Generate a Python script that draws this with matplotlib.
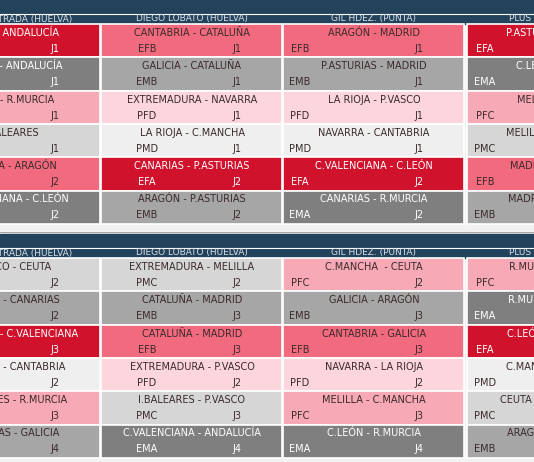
import matplotlib
matplotlib.use("Agg")
import matplotlib.pyplot as plt
from matplotlib.patches import Rectangle

headers = ["ANDRÉS ESTRADA (HUELVA)", "DIEGO LOBATO (HUELVA)", "GIL HDEZ. (PUNTA)", "PLUS ULTRA (HUELVA)"]

block1_matches = [
    ["CEUTA - ANDALUCÍA", "MURCIA - ANDALUCÍA", "CEUTA - R.MURCIA", "I.BALEARES", "MELILLA - ARAGÓN", "C.VALENCIANA - C.LEÓN"],
    ["CANTABRIA - CATALUÑA", "GALICIA - CATALUÑA", "EXTREMADURA - NAVARRA", "LA RIOJA - C.MANCHA", "CANARIAS - P.ASTURIAS", "ARAGÓN - P.ASTURIAS"],
    ["ARAGÓN - MADRID", "P.ASTURIAS - MADRID", "LA RIOJA - P.VASCO", "NAVARRA - CANTABRIA", "C.VALENCIANA - C.LEÓN", "CANARIAS - R.MURCIA"],
    ["P.ASTURIAS - GALICIA", "C.LEÓN - GALICIA", "MELILLA - CEUTA", "MELILLA - C.MANCHA", "MADRID - NAVARRA", "MADRID - CANARIAS"],
]
block1_codes = [
    ["EFA", "EMA", "PFC", "PMC", "EFB", "EMA"],
    ["EFB", "EMB", "PFD", "PMD", "EFA", "EMB"],
    ["EFB", "EMB", "PFD", "PMD", "EFA", "EMA"],
    ["EFA", "EMA", "PFC", "PMC", "EFB", "EMB"],
]
block1_rounds = [
    ["J1", "J1", "J1", "J1", "J2", "J2"],
    ["J1", "J1", "J1", "J1", "J2", "J2"],
    ["J1", "J1", "J1", "J1", "J2", "J2"],
    ["J1", "J1", "J1", "J1", "J2", "J2"],
]
block2_matches = [
    ["P.VASCO - CEUTA", "MADRID - CANARIAS", "P.ASTURIAS - C.VALENCIANA", "NAVARRA - CANTABRIA", "I.BALEARES - R.MURCIA", "CANARIAS - GALICIA"],
    ["EXTREMADURA - MELILLA", "CATALUÑA - MADRID", "CATALUÑA - MADRID", "EXTREMADURA - P.VASCO", "I.BALEARES - P.VASCO", "C.VALENCIANA - ANDALUCÍA"],
    ["C.MANCHA  - CEUTA", "GALICIA - ARAGÓN", "CANTABRIA - GALICIA", "NAVARRA - LA RIOJA", "MELILLA - C.MANCHA", "C.LEÓN - R.MURCIA"],
    ["R.MURCIA - MELILLA", "R.MURCIA - ARAGÓN", "C.LEÓN - ANDALUCÍA", "C.MANCHA - LA RIOJA", "CEUTA - EXTREMADURA", "ARAGÓN - CATALUÑA"],
]
block2_codes = [
    ["PMC", "EMB", "EFA", "PMD", "PFC", "EMB"],
    ["PMC", "EMB", "EFB", "PFD", "PMC", "EMA"],
    ["PFC", "EMB", "EFB", "PFD", "PFC", "EMA"],
    ["PFC", "EMA", "EFA", "PMD", "PMC", "EMB"],
]
block2_rounds = [
    ["J2", "J2", "J3", "J2", "J3", "J4"],
    ["J2", "J3", "J3", "J2", "J3", "J4"],
    ["J2", "J3", "J3", "J2", "J3", "J4"],
    ["J2", "J3", "J3", "J2", "J3", "J4"],
]

fills = {"EFA": "#d0122d", "EFB": "#f26a7e", "PFC": "#f7a9b5", "PFD": "#fcd6dc",
         "EMA": "#7f7f7f", "EMB": "#a6a6a6", "PMC": "#d6d6d6", "PMD": "#efefef"}
dark_text = {"EFA", "EMA"}
HEAD = "#23435c"

W, H = 534, 462
fig = plt.figure(figsize=(W/100, H/100), dpi=100)
ax = fig.add_axes([0, 0, 1, 1])
ax.set_xlim(0, W); ax.set_ylim(H, 0); ax.axis("off")
ax.add_patch(Rectangle((0, 0), W, H, color="#f2f2f2"))

col_x = [-81, 101, 283, 467]
col_w = 181
code_off = [17, 46, 17, 18]
j_off = 136
FONT = ["Liberation Sans Narrow", "DejaVu Sans"]

def block(y0, matches, codes, rounds):
    ax.add_patch(Rectangle((0, y0), W, 14, color=HEAD))
    ax.add_patch(Rectangle((0, y0+14), W, 10, color=HEAD))
    ax.plot([0, W], [y0+14, y0+14], color="white", lw=0.8)
    for c in range(4):
        ax.text(col_x[c] + col_w/2, y0+19, headers[c], ha="center", va="center",
                fontsize=6.5, color="#d8e0e8", family=FONT)
    rh = 33.3
    for c in range(4):
        for r in range(6):
            y = y0 + 24 + r*rh
            code = codes[c][r]
            ax.add_patch(Rectangle((col_x[c], y), col_w, rh, facecolor=fills[code],
                                   edgecolor="white", lw=1.2))
            tc = "white" if code in dark_text else "#3a2a2a"
            ax.text(col_x[c] + col_w/2 + 0.5, y + 9, matches[c][r], ha="center", va="center",
                    fontsize=7, color=tc, family=FONT)
            ax.text(col_x[c] + code_off[c], y + 25, code, ha="center", va="center",
                    fontsize=7, color=tc, family=FONT)
            ax.text(col_x[c] + j_off, y + 25, rounds[c][r], ha="center", va="center",
                    fontsize=7, color=tc, family=FONT)

block(0, block1_matches, block1_codes, block1_rounds)
block(234, block2_matches, block2_codes, block2_rounds)
ax.plot([0, W], [232, 232], color="#9a9a9a", lw=0.6)
fig.savefig("out.png", dpi=100)
